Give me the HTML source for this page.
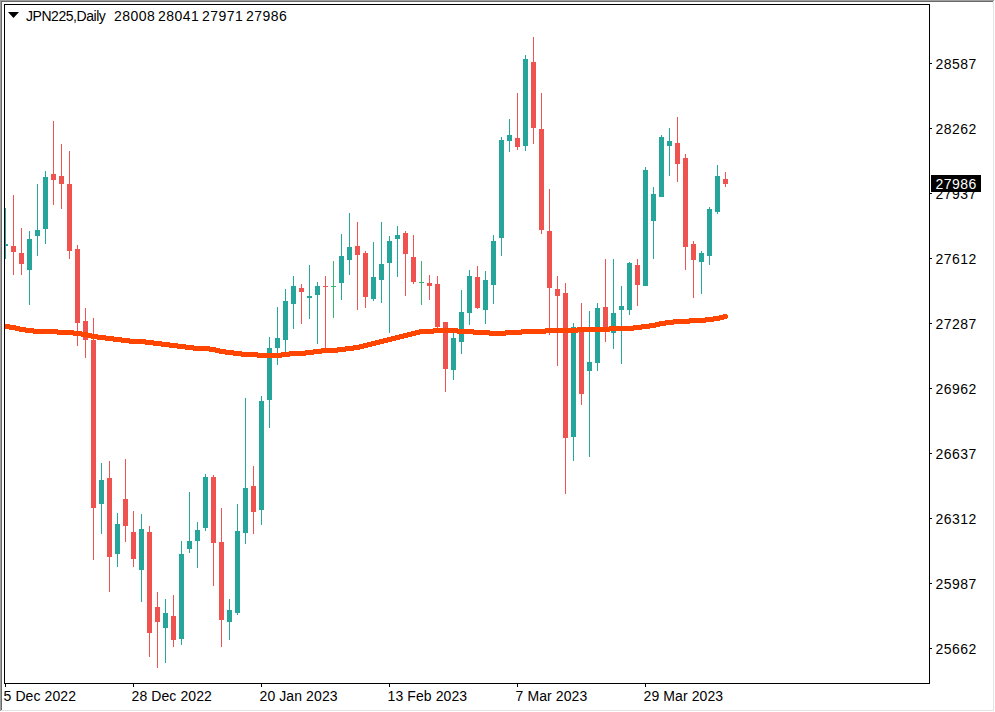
<!DOCTYPE html>
<html><head><meta charset="utf-8"><title>JPN225 Daily</title>
<style>
html,body{margin:0;padding:0;background:#fff;}
body{width:995px;height:712px;position:relative;overflow:hidden;font-family:"Liberation Sans",sans-serif;font-size:14px;color:#000;}
.f{position:absolute;}
.t{position:absolute;white-space:pre;line-height:16px;height:16px;letter-spacing:0.2px;}
.d{letter-spacing:0.45px;}
svg{position:absolute;left:0;top:0;}
</style></head><body>
<!-- window frame -->
<div class="f" style="left:0;top:0;width:994px;height:1px;background:#a0a0a0"></div>
<div class="f" style="left:0;top:0;width:1px;height:711px;background:#a0a0a0"></div>
<div class="f" style="left:1px;top:1px;width:993px;height:1px;background:#696969"></div>
<div class="f" style="left:1px;top:1px;width:1px;height:710px;background:#696969"></div>
<div class="f" style="left:993px;top:1px;width:1px;height:710px;background:#e3e3e3"></div>
<div class="f" style="left:1px;top:710px;width:993px;height:1px;background:#e3e3e3"></div>
<svg width="995" height="712" viewBox="0 0 995 712">
<defs><clipPath id="cp"><rect x="5" y="5" width="924" height="678"/></clipPath></defs>
<g shape-rendering="crispEdges" clip-path="url(#cp)">
<rect x="5" y="208" width="1" height="51" fill="#26a69a"/>
<rect x="3" y="244" width="5" height="2" fill="#26a69a"/>
<rect x="13" y="195" width="1" height="80" fill="#ef5350"/>
<rect x="11" y="246" width="5" height="6" fill="#ef5350"/>
<rect x="21" y="228" width="1" height="47" fill="#ef5350"/>
<rect x="19" y="253" width="5" height="11" fill="#ef5350"/>
<rect x="29" y="231" width="1" height="74" fill="#26a69a"/>
<rect x="27" y="239" width="5" height="31" fill="#26a69a"/>
<rect x="37" y="184" width="1" height="72" fill="#26a69a"/>
<rect x="35" y="230" width="5" height="6" fill="#26a69a"/>
<rect x="45" y="171" width="1" height="73" fill="#26a69a"/>
<rect x="43" y="177" width="5" height="52" fill="#26a69a"/>
<rect x="53" y="121" width="1" height="84" fill="#ef5350"/>
<rect x="51" y="174" width="5" height="6" fill="#ef5350"/>
<rect x="61" y="144" width="1" height="65" fill="#ef5350"/>
<rect x="59" y="176" width="5" height="8" fill="#ef5350"/>
<rect x="69" y="151" width="1" height="108" fill="#ef5350"/>
<rect x="67" y="184" width="5" height="67" fill="#ef5350"/>
<rect x="77" y="245" width="1" height="101" fill="#ef5350"/>
<rect x="75" y="249" width="5" height="74" fill="#ef5350"/>
<rect x="85" y="308" width="1" height="50" fill="#ef5350"/>
<rect x="83" y="321" width="5" height="19" fill="#ef5350"/>
<rect x="93" y="318" width="1" height="242" fill="#ef5350"/>
<rect x="91" y="340" width="5" height="168" fill="#ef5350"/>
<rect x="101" y="463" width="1" height="71" fill="#26a69a"/>
<rect x="99" y="480" width="5" height="24" fill="#26a69a"/>
<rect x="109" y="461" width="1" height="131" fill="#ef5350"/>
<rect x="107" y="478" width="5" height="79" fill="#ef5350"/>
<rect x="117" y="513" width="1" height="54" fill="#26a69a"/>
<rect x="115" y="524" width="5" height="30" fill="#26a69a"/>
<rect x="125" y="459" width="1" height="83" fill="#ef5350"/>
<rect x="123" y="499" width="5" height="27" fill="#ef5350"/>
<rect x="133" y="511" width="1" height="56" fill="#ef5350"/>
<rect x="131" y="532" width="5" height="27" fill="#ef5350"/>
<rect x="141" y="514" width="1" height="88" fill="#26a69a"/>
<rect x="139" y="529" width="5" height="41" fill="#26a69a"/>
<rect x="149" y="526" width="1" height="131" fill="#ef5350"/>
<rect x="147" y="532" width="5" height="101" fill="#ef5350"/>
<rect x="157" y="592" width="1" height="76" fill="#ef5350"/>
<rect x="155" y="607" width="5" height="15" fill="#ef5350"/>
<rect x="165" y="599" width="1" height="64" fill="#26a69a"/>
<rect x="163" y="613" width="5" height="15" fill="#26a69a"/>
<rect x="173" y="595" width="1" height="52" fill="#ef5350"/>
<rect x="171" y="616" width="5" height="24" fill="#ef5350"/>
<rect x="181" y="541" width="1" height="104" fill="#26a69a"/>
<rect x="179" y="554" width="5" height="85" fill="#26a69a"/>
<rect x="189" y="492" width="1" height="61" fill="#26a69a"/>
<rect x="187" y="541" width="5" height="8" fill="#26a69a"/>
<rect x="197" y="522" width="1" height="46" fill="#26a69a"/>
<rect x="195" y="530" width="5" height="11" fill="#26a69a"/>
<rect x="205" y="474" width="1" height="57" fill="#26a69a"/>
<rect x="203" y="477" width="5" height="51" fill="#26a69a"/>
<rect x="213" y="475" width="1" height="111" fill="#ef5350"/>
<rect x="211" y="477" width="5" height="66" fill="#ef5350"/>
<rect x="221" y="508" width="1" height="139" fill="#ef5350"/>
<rect x="219" y="542" width="5" height="78" fill="#ef5350"/>
<rect x="229" y="599" width="1" height="41" fill="#26a69a"/>
<rect x="227" y="610" width="5" height="12" fill="#26a69a"/>
<rect x="237" y="504" width="1" height="111" fill="#26a69a"/>
<rect x="235" y="531" width="5" height="82" fill="#26a69a"/>
<rect x="245" y="398" width="1" height="146" fill="#26a69a"/>
<rect x="243" y="488" width="5" height="45" fill="#26a69a"/>
<rect x="253" y="466" width="1" height="68" fill="#ef5350"/>
<rect x="251" y="486" width="5" height="26" fill="#ef5350"/>
<rect x="261" y="396" width="1" height="129" fill="#26a69a"/>
<rect x="259" y="401" width="5" height="109" fill="#26a69a"/>
<rect x="269" y="337" width="1" height="91" fill="#26a69a"/>
<rect x="267" y="348" width="5" height="52" fill="#26a69a"/>
<rect x="277" y="307" width="1" height="58" fill="#26a69a"/>
<rect x="275" y="338" width="5" height="10" fill="#26a69a"/>
<rect x="285" y="289" width="1" height="63" fill="#26a69a"/>
<rect x="283" y="301" width="5" height="39" fill="#26a69a"/>
<rect x="293" y="276" width="1" height="53" fill="#26a69a"/>
<rect x="291" y="286" width="5" height="18" fill="#26a69a"/>
<rect x="301" y="284" width="1" height="40" fill="#ef5350"/>
<rect x="299" y="288" width="5" height="4" fill="#ef5350"/>
<rect x="309" y="265" width="1" height="54" fill="#26a69a"/>
<rect x="307" y="296" width="5" height="2" fill="#26a69a"/>
<rect x="317" y="282" width="1" height="62" fill="#26a69a"/>
<rect x="315" y="286" width="5" height="9" fill="#26a69a"/>
<rect x="325" y="276" width="1" height="72" fill="#ef5350"/>
<rect x="323" y="286" width="5" height="1" fill="#ef5350"/>
<rect x="333" y="261" width="1" height="57" fill="#3cb371"/>
<rect x="331" y="286" width="5" height="1" fill="#3cb371"/>
<rect x="341" y="234" width="1" height="66" fill="#26a69a"/>
<rect x="339" y="256" width="5" height="27" fill="#26a69a"/>
<rect x="349" y="213" width="1" height="62" fill="#26a69a"/>
<rect x="347" y="247" width="5" height="13" fill="#26a69a"/>
<rect x="357" y="222" width="1" height="88" fill="#ef5350"/>
<rect x="355" y="246" width="5" height="9" fill="#ef5350"/>
<rect x="365" y="251" width="1" height="57" fill="#ef5350"/>
<rect x="363" y="253" width="5" height="44" fill="#ef5350"/>
<rect x="373" y="242" width="1" height="59" fill="#26a69a"/>
<rect x="371" y="277" width="5" height="22" fill="#26a69a"/>
<rect x="381" y="222" width="1" height="81" fill="#26a69a"/>
<rect x="379" y="264" width="5" height="16" fill="#26a69a"/>
<rect x="389" y="236" width="1" height="97" fill="#26a69a"/>
<rect x="387" y="241" width="5" height="22" fill="#26a69a"/>
<rect x="397" y="226" width="1" height="51" fill="#26a69a"/>
<rect x="395" y="235" width="5" height="4" fill="#26a69a"/>
<rect x="405" y="231" width="1" height="65" fill="#ef5350"/>
<rect x="403" y="233" width="5" height="21" fill="#ef5350"/>
<rect x="413" y="235" width="1" height="49" fill="#ef5350"/>
<rect x="411" y="257" width="5" height="25" fill="#ef5350"/>
<rect x="421" y="261" width="1" height="44" fill="#3cb371"/>
<rect x="419" y="282" width="5" height="1" fill="#3cb371"/>
<rect x="429" y="275" width="1" height="25" fill="#ef5350"/>
<rect x="427" y="283" width="5" height="3" fill="#ef5350"/>
<rect x="437" y="276" width="1" height="52" fill="#ef5350"/>
<rect x="435" y="284" width="5" height="43" fill="#ef5350"/>
<rect x="445" y="322" width="1" height="70" fill="#ef5350"/>
<rect x="443" y="322" width="5" height="47" fill="#ef5350"/>
<rect x="453" y="333" width="1" height="47" fill="#26a69a"/>
<rect x="451" y="338" width="5" height="32" fill="#26a69a"/>
<rect x="461" y="290" width="1" height="64" fill="#26a69a"/>
<rect x="459" y="312" width="5" height="30" fill="#26a69a"/>
<rect x="469" y="270" width="1" height="55" fill="#26a69a"/>
<rect x="467" y="276" width="5" height="37" fill="#26a69a"/>
<rect x="477" y="266" width="1" height="43" fill="#ef5350"/>
<rect x="475" y="277" width="5" height="31" fill="#ef5350"/>
<rect x="485" y="271" width="1" height="53" fill="#26a69a"/>
<rect x="483" y="280" width="5" height="30" fill="#26a69a"/>
<rect x="493" y="235" width="1" height="69" fill="#26a69a"/>
<rect x="491" y="241" width="5" height="44" fill="#26a69a"/>
<rect x="501" y="137" width="1" height="119" fill="#26a69a"/>
<rect x="499" y="140" width="5" height="98" fill="#26a69a"/>
<rect x="509" y="119" width="1" height="33" fill="#26a69a"/>
<rect x="507" y="135" width="5" height="6" fill="#26a69a"/>
<rect x="517" y="93" width="1" height="57" fill="#ef5350"/>
<rect x="515" y="138" width="5" height="9" fill="#ef5350"/>
<rect x="525" y="55" width="1" height="96" fill="#26a69a"/>
<rect x="523" y="59" width="5" height="87" fill="#26a69a"/>
<rect x="533" y="37" width="1" height="107" fill="#ef5350"/>
<rect x="531" y="62" width="5" height="66" fill="#ef5350"/>
<rect x="541" y="93" width="1" height="141" fill="#ef5350"/>
<rect x="539" y="129" width="5" height="101" fill="#ef5350"/>
<rect x="549" y="189" width="1" height="146" fill="#ef5350"/>
<rect x="547" y="231" width="5" height="57" fill="#ef5350"/>
<rect x="557" y="276" width="1" height="90" fill="#ef5350"/>
<rect x="555" y="289" width="5" height="7" fill="#ef5350"/>
<rect x="565" y="283" width="1" height="211" fill="#ef5350"/>
<rect x="563" y="293" width="5" height="145" fill="#ef5350"/>
<rect x="573" y="323" width="1" height="138" fill="#26a69a"/>
<rect x="571" y="327" width="5" height="110" fill="#26a69a"/>
<rect x="581" y="303" width="1" height="102" fill="#ef5350"/>
<rect x="579" y="328" width="5" height="66" fill="#ef5350"/>
<rect x="589" y="311" width="1" height="146" fill="#26a69a"/>
<rect x="587" y="362" width="5" height="9" fill="#26a69a"/>
<rect x="597" y="303" width="1" height="68" fill="#26a69a"/>
<rect x="595" y="308" width="5" height="55" fill="#26a69a"/>
<rect x="605" y="259" width="1" height="83" fill="#ef5350"/>
<rect x="603" y="307" width="5" height="20" fill="#ef5350"/>
<rect x="613" y="259" width="1" height="90" fill="#26a69a"/>
<rect x="611" y="313" width="5" height="20" fill="#26a69a"/>
<rect x="621" y="286" width="1" height="78" fill="#26a69a"/>
<rect x="619" y="306" width="5" height="4" fill="#26a69a"/>
<rect x="629" y="262" width="1" height="53" fill="#26a69a"/>
<rect x="627" y="263" width="5" height="47" fill="#26a69a"/>
<rect x="637" y="259" width="1" height="47" fill="#ef5350"/>
<rect x="635" y="265" width="5" height="20" fill="#ef5350"/>
<rect x="645" y="167" width="1" height="119" fill="#26a69a"/>
<rect x="643" y="170" width="5" height="116" fill="#26a69a"/>
<rect x="653" y="187" width="1" height="72" fill="#26a69a"/>
<rect x="651" y="194" width="5" height="27" fill="#26a69a"/>
<rect x="661" y="135" width="1" height="62" fill="#26a69a"/>
<rect x="659" y="137" width="5" height="60" fill="#26a69a"/>
<rect x="669" y="128" width="1" height="48" fill="#26a69a"/>
<rect x="667" y="141" width="5" height="5" fill="#26a69a"/>
<rect x="677" y="117" width="1" height="65" fill="#ef5350"/>
<rect x="675" y="143" width="5" height="21" fill="#ef5350"/>
<rect x="685" y="154" width="1" height="116" fill="#ef5350"/>
<rect x="683" y="158" width="5" height="89" fill="#ef5350"/>
<rect x="693" y="241" width="1" height="57" fill="#ef5350"/>
<rect x="691" y="244" width="5" height="16" fill="#ef5350"/>
<rect x="701" y="251" width="1" height="43" fill="#26a69a"/>
<rect x="699" y="253" width="5" height="9" fill="#26a69a"/>
<rect x="709" y="207" width="1" height="58" fill="#26a69a"/>
<rect x="707" y="209" width="5" height="47" fill="#26a69a"/>
<rect x="717" y="165" width="1" height="49" fill="#26a69a"/>
<rect x="715" y="176" width="5" height="36" fill="#26a69a"/>
<rect x="725" y="172" width="1" height="15" fill="#ef5350"/>
<rect x="723" y="179" width="5" height="5" fill="#ef5350"/>
</g>
<g shape-rendering="crispEdges" fill="#ff4500">
<rect x="5" y="324" width="5" height="5"/>
<rect x="10" y="325" width="6" height="5"/>
<rect x="16" y="326" width="4" height="5"/>
<rect x="20" y="327" width="6" height="5"/>
<rect x="26" y="328" width="8" height="5"/>
<rect x="34" y="329" width="24" height="5"/>
<rect x="58" y="330" width="16" height="5"/>
<rect x="74" y="331" width="8" height="5"/>
<rect x="82" y="332" width="6" height="5"/>
<rect x="88" y="333" width="4" height="5"/>
<rect x="92" y="334" width="6" height="5"/>
<rect x="98" y="335" width="8" height="5"/>
<rect x="106" y="336" width="8" height="5"/>
<rect x="114" y="337" width="8" height="5"/>
<rect x="122" y="338" width="8" height="5"/>
<rect x="130" y="339" width="16" height="5"/>
<rect x="146" y="340" width="8" height="5"/>
<rect x="154" y="341" width="8" height="5"/>
<rect x="162" y="342" width="8" height="5"/>
<rect x="170" y="343" width="8" height="5"/>
<rect x="178" y="344" width="8" height="5"/>
<rect x="186" y="345" width="8" height="5"/>
<rect x="194" y="346" width="16" height="5"/>
<rect x="210" y="347" width="6" height="5"/>
<rect x="216" y="348" width="4" height="5"/>
<rect x="220" y="349" width="6" height="5"/>
<rect x="226" y="350" width="8" height="5"/>
<rect x="234" y="351" width="8" height="5"/>
<rect x="242" y="352" width="16" height="5"/>
<rect x="258" y="353" width="24" height="5"/>
<rect x="282" y="352" width="8" height="5"/>
<rect x="290" y="351" width="16" height="5"/>
<rect x="306" y="350" width="8" height="5"/>
<rect x="314" y="349" width="8" height="5"/>
<rect x="322" y="348" width="16" height="5"/>
<rect x="338" y="347" width="8" height="5"/>
<rect x="346" y="346" width="8" height="5"/>
<rect x="354" y="345" width="6" height="5"/>
<rect x="360" y="344" width="4" height="5"/>
<rect x="364" y="343" width="4" height="5"/>
<rect x="368" y="342" width="4" height="5"/>
<rect x="372" y="341" width="4" height="5"/>
<rect x="376" y="340" width="4" height="5"/>
<rect x="380" y="339" width="4" height="5"/>
<rect x="384" y="338" width="4" height="5"/>
<rect x="388" y="337" width="4" height="5"/>
<rect x="392" y="336" width="4" height="5"/>
<rect x="396" y="335" width="4" height="5"/>
<rect x="400" y="334" width="4" height="5"/>
<rect x="404" y="333" width="4" height="5"/>
<rect x="408" y="332" width="4" height="5"/>
<rect x="412" y="331" width="4" height="5"/>
<rect x="416" y="330" width="4" height="5"/>
<rect x="420" y="329" width="14" height="5"/>
<rect x="434" y="328" width="24" height="5"/>
<rect x="458" y="329" width="16" height="5"/>
<rect x="474" y="330" width="16" height="5"/>
<rect x="490" y="331" width="16" height="5"/>
<rect x="506" y="330" width="16" height="5"/>
<rect x="522" y="329" width="24" height="5"/>
<rect x="546" y="328" width="32" height="5"/>
<rect x="578" y="327" width="32" height="5"/>
<rect x="610" y="326" width="24" height="5"/>
<rect x="634" y="325" width="8" height="5"/>
<rect x="642" y="324" width="8" height="5"/>
<rect x="650" y="323" width="6" height="5"/>
<rect x="656" y="322" width="4" height="5"/>
<rect x="660" y="321" width="6" height="5"/>
<rect x="666" y="320" width="8" height="5"/>
<rect x="674" y="319" width="16" height="5"/>
<rect x="690" y="318" width="16" height="5"/>
<rect x="706" y="317" width="8" height="5"/>
<rect x="714" y="316" width="6" height="5"/>
<rect x="720" y="315" width="4" height="5"/>
<rect x="724" y="314" width="3" height="5"/>
<rect x="727" y="315" width="1" height="3"/>
<rect x="9" y="324" width="1" height="6"/>
<rect x="15" y="325" width="1" height="6"/>
<rect x="19" y="326" width="1" height="6"/>
<rect x="25" y="327" width="1" height="6"/>
<rect x="33" y="328" width="1" height="6"/>
<rect x="57" y="329" width="1" height="6"/>
<rect x="73" y="330" width="1" height="6"/>
<rect x="81" y="331" width="1" height="6"/>
<rect x="87" y="332" width="1" height="6"/>
<rect x="91" y="333" width="1" height="6"/>
<rect x="97" y="334" width="1" height="6"/>
<rect x="105" y="335" width="1" height="6"/>
<rect x="113" y="336" width="1" height="6"/>
<rect x="121" y="337" width="1" height="6"/>
<rect x="129" y="338" width="1" height="6"/>
<rect x="145" y="339" width="1" height="6"/>
<rect x="153" y="340" width="1" height="6"/>
<rect x="161" y="341" width="1" height="6"/>
<rect x="169" y="342" width="1" height="6"/>
<rect x="177" y="343" width="1" height="6"/>
<rect x="185" y="344" width="1" height="6"/>
<rect x="193" y="345" width="1" height="6"/>
<rect x="209" y="346" width="1" height="6"/>
<rect x="215" y="347" width="1" height="6"/>
<rect x="219" y="348" width="1" height="6"/>
<rect x="225" y="349" width="1" height="6"/>
<rect x="233" y="350" width="1" height="6"/>
<rect x="241" y="351" width="1" height="6"/>
<rect x="257" y="352" width="1" height="6"/>
<rect x="281" y="352" width="1" height="6"/>
<rect x="289" y="351" width="1" height="6"/>
<rect x="305" y="350" width="1" height="6"/>
<rect x="313" y="349" width="1" height="6"/>
<rect x="321" y="348" width="1" height="6"/>
<rect x="337" y="347" width="1" height="6"/>
<rect x="345" y="346" width="1" height="6"/>
<rect x="353" y="345" width="1" height="6"/>
<rect x="359" y="344" width="1" height="6"/>
<rect x="363" y="343" width="1" height="6"/>
<rect x="367" y="342" width="1" height="6"/>
<rect x="371" y="341" width="1" height="6"/>
<rect x="375" y="340" width="1" height="6"/>
<rect x="379" y="339" width="1" height="6"/>
<rect x="383" y="338" width="1" height="6"/>
<rect x="387" y="337" width="1" height="6"/>
<rect x="391" y="336" width="1" height="6"/>
<rect x="395" y="335" width="1" height="6"/>
<rect x="399" y="334" width="1" height="6"/>
<rect x="403" y="333" width="1" height="6"/>
<rect x="407" y="332" width="1" height="6"/>
<rect x="411" y="331" width="1" height="6"/>
<rect x="415" y="330" width="1" height="6"/>
<rect x="419" y="329" width="1" height="6"/>
<rect x="433" y="328" width="1" height="6"/>
<rect x="457" y="328" width="1" height="6"/>
<rect x="473" y="329" width="1" height="6"/>
<rect x="489" y="330" width="1" height="6"/>
<rect x="505" y="330" width="1" height="6"/>
<rect x="521" y="329" width="1" height="6"/>
<rect x="545" y="328" width="1" height="6"/>
<rect x="577" y="327" width="1" height="6"/>
<rect x="609" y="326" width="1" height="6"/>
<rect x="633" y="325" width="1" height="6"/>
<rect x="641" y="324" width="1" height="6"/>
<rect x="649" y="323" width="1" height="6"/>
<rect x="655" y="322" width="1" height="6"/>
<rect x="659" y="321" width="1" height="6"/>
<rect x="665" y="320" width="1" height="6"/>
<rect x="673" y="319" width="1" height="6"/>
<rect x="689" y="318" width="1" height="6"/>
<rect x="705" y="317" width="1" height="6"/>
<rect x="713" y="316" width="1" height="6"/>
<rect x="719" y="315" width="1" height="6"/>
<rect x="723" y="314" width="1" height="6"/>
</g>
<g shape-rendering="crispEdges" fill="#000">
<rect x="4" y="4" width="926" height="1"/>
<rect x="4" y="4" width="1" height="680"/>
<rect x="929" y="4" width="1" height="680"/>
<rect x="4" y="683" width="926" height="1"/>
<rect x="930" y="63" width="2" height="1"/>
<rect x="930" y="128" width="2" height="1"/>
<rect x="930" y="193" width="2" height="1"/>
<rect x="930" y="258" width="2" height="1"/>
<rect x="930" y="323" width="2" height="1"/>
<rect x="930" y="388" width="2" height="1"/>
<rect x="930" y="453" width="2" height="1"/>
<rect x="930" y="518" width="2" height="1"/>
<rect x="930" y="583" width="2" height="1"/>
<rect x="930" y="648" width="2" height="1"/>
<rect x="5" y="684" width="1" height="3"/>
<rect x="133" y="684" width="1" height="3"/>
<rect x="261" y="684" width="1" height="3"/>
<rect x="389" y="684" width="1" height="3"/>
<rect x="517" y="684" width="1" height="3"/>
<rect x="645" y="684" width="1" height="3"/>
<rect x="931" y="175" width="50" height="17"/>
</g>
<polygon points="8,12 19,12 13.5,18" fill="#000"/>
</svg>
<div class="t" style="left:26px;top:8px;letter-spacing:-0.45px">JPN225,Daily</div>
<div class="t d" style="left:114px;top:8px">28008</div>
<div class="t d" style="left:158px;top:8px">28041</div>
<div class="t d" style="left:202px;top:8px">27971</div>
<div class="t d" style="left:246px;top:8px">27986</div>
<div class="t d" style="left:935.5px;top:56px">28587</div>
<div class="t d" style="left:935.5px;top:121px">28262</div>
<div class="t d" style="left:935.5px;top:186px">27937</div>
<div class="t d" style="left:935.5px;top:251px">27612</div>
<div class="t d" style="left:935.5px;top:316px">27287</div>
<div class="t d" style="left:935.5px;top:381px">26962</div>
<div class="t d" style="left:935.5px;top:446px">26637</div>
<div class="t d" style="left:935.5px;top:511px">26312</div>
<div class="t d" style="left:935.5px;top:576px">25987</div>
<div class="t d" style="left:935.5px;top:641px">25662</div>
<div class="t d" style="left:935.5px;top:176px;color:#fff">27986</div>
<div class="t" style="left:3.5px;top:688px;letter-spacing:0.1px">5 Dec 2022</div>
<div class="t" style="left:131.5px;top:688px;letter-spacing:0.1px">28 Dec 2022</div>
<div class="t" style="left:259.5px;top:688px;letter-spacing:0.1px">20 Jan 2023</div>
<div class="t" style="left:387.5px;top:688px;letter-spacing:0.1px">13 Feb 2023</div>
<div class="t" style="left:515.5px;top:688px;letter-spacing:0.1px">7 Mar 2023</div>
<div class="t" style="left:643.5px;top:688px;letter-spacing:0.1px">29 Mar 2023</div>
</body></html>
